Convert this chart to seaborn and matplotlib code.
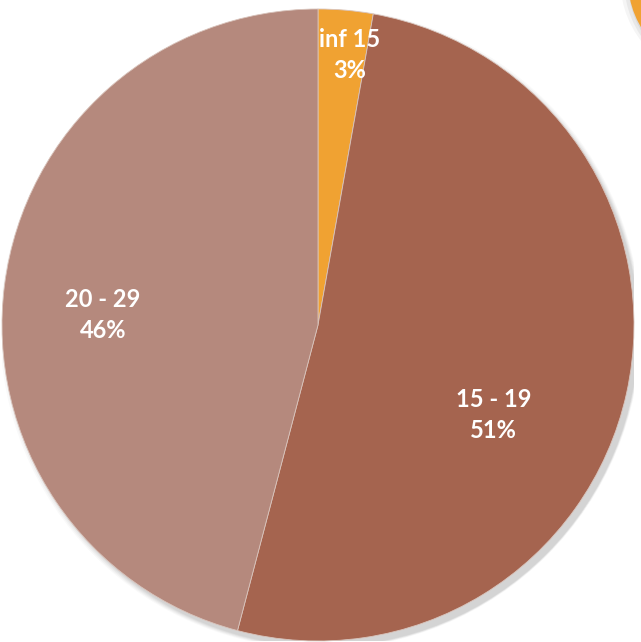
import matplotlib
matplotlib.use("Agg")
import matplotlib.pyplot as plt
import seaborn as sns
import numpy as np
from matplotlib.patches import Circle

sns.set_theme(style="white")
plt.rcParams['font.family'] = ['Lato', 'DejaVu Sans']

categories = ["inf 15", "15 - 19", "20 - 29"]
values = [2.8, 51.3, 45.9]
pct_labels = ["3%", "51%", "46%"]
colors = ["#F0A232", "#A5644F", "#B5897D"]

fig = plt.figure(figsize=(6.41, 6.42), dpi=100)
ax = fig.add_axes([2/641, 1-641/642, 632/641, 632/642])

# soft shadow
for i, a in enumerate([0.025, 0.03, 0.035, 0.04, 0.045]):
    ax.add_patch(Circle((0.008 + 0.002*i, -0.012 - 0.002*i), 1.0 + 0.014 - 0.004*i,
                        color="black", alpha=a, lw=0, zorder=0))

wedges, _ = ax.pie(values, colors=colors, startangle=90, counterclock=False,
                   radius=1.0, wedgeprops=dict(linewidth=0.6, edgecolor="#d9c4bc"))
for w in wedges:
    w.set_zorder(2)

# label placement (Excel best fit)
label_pos = [(0.10, 0.855), (0.555, -0.285), (-0.68, 0.032)]
for cat, pct, (x, y) in zip(categories, pct_labels, label_pos):
    ax.text(x, y, f"{cat}\n{pct}", ha="center", va="center", color="white",
            fontsize=17, fontweight="bold", linespacing=1.45, zorder=5)

ax.set_xlim(-1, 1)
ax.set_ylim(-1, 1)
ax.set_aspect("equal")
ax.axis("off")

# partial edge of neighbouring element (top-right corner)
for i, a in enumerate([0.04, 0.05, 0.06]):
    fig.patches.append(Circle((720/641 + 0.002*i, 1 + 20/642 - 0.002*i), 92/641 + 0.012 - 0.004*i,
                              transform=fig.transFigure, facecolor="black", alpha=a,
                              edgecolor="none", zorder=0))
fig.patches.append(Circle((720/641, 1 + 20/642), 92/641, transform=fig.transFigure,
                          facecolor="#F0A232", edgecolor="none", zorder=1))

fig.savefig("out.png", dpi=100)
